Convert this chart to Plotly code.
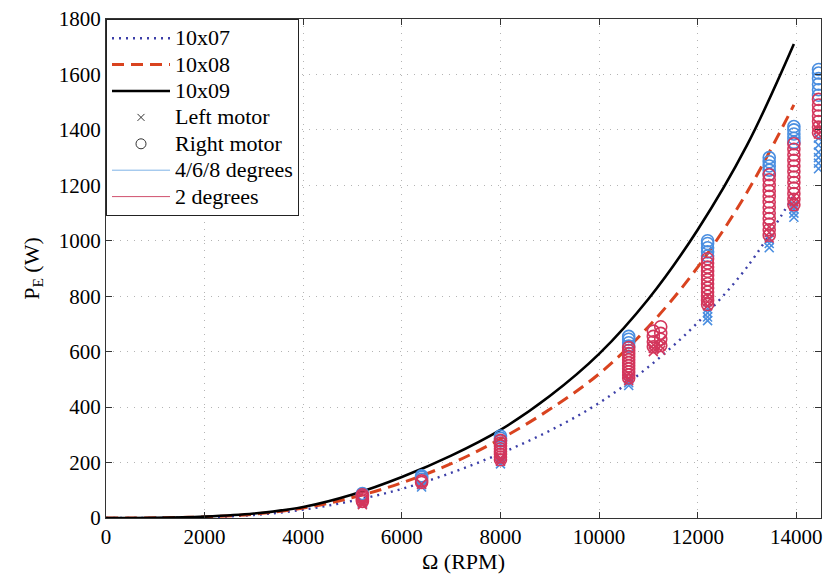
import plotly.graph_objects as go

# Model curves: electrical power vs rotor speed for three propellers
curve_rpm = [0, 1000, 2000, 3000, 4000, 5000, 6000, 7000, 8000, 9000, 10000, 11000, 12000, 13000, 13950]
p_10x07 = [0, 0.5, 3, 11, 30, 62, 105, 163, 233, 315, 415, 545, 705, 905, 1165]
p_10x08 = [0, 0.5, 4, 14, 36, 74, 127, 196, 285, 392, 520, 690, 905, 1175, 1490]
p_10x09 = [0, 0.5, 5, 16, 40, 85, 148, 225, 318, 440, 592, 790, 1040, 1345, 1710]

# Measured test points, grouped by commanded speed
rpm_levels = [5200, 6400, 8000, 10600, 11100, 11250, 12200, 13450, 13950, 14450]

# 4/6/8 degrees, left motor (x) and right motor (o)
left_wide = [[52, 60], [112, 120], [195, 205, 215], [478, 488, 500], [], [],
             [712, 725, 740, 755], [975, 990, 1005], [1085, 1100, 1115, 1130],
             [1260, 1280, 1300, 1320, 1345, 1370]]
right_wide = [[82, 88], [140, 147, 152], [278, 288, 296], [620, 632, 645, 655], [], [],
              [945, 960, 975, 990, 1000], [1240, 1255, 1270, 1285, 1300],
              [1355, 1370, 1385, 1400, 1412], [1525, 1545, 1565, 1585, 1605, 1618]]

# 2 degrees, left motor (x) and right motor (o)
left_two = [[48, 56], [122], [205, 215], [495, 505, 520], [600, 612, 625], [605, 620, 640],
            [765, 780, 800], [1010, 1030, 1050], [1125, 1140, 1160], [1385, 1400, 1420]]
right_two = [[60, 66, 72, 78, 84], [128, 134],
             [210, 220, 230, 240, 250, 260, 270, 280],
             [505, 516, 527, 538, 549, 560, 571, 582, 593, 604, 615],
             [618, 636, 655, 674], [622, 645, 666, 690],
             [770, 785, 800, 815, 830, 845, 860, 875, 890, 905, 920, 935],
             [1020, 1040, 1060, 1080, 1100, 1120, 1140, 1160, 1180, 1200, 1220, 1238],
             [1130, 1150, 1170, 1190, 1210, 1230, 1250, 1270, 1290, 1310, 1330, 1350],
             [1390, 1410, 1430, 1450, 1470, 1490, 1510]]

x_ticks = [0, 2000, 4000, 6000, 8000, 10000, 12000, 14000]
y_ticks = [0, 200, 400, 600, 800, 1000, 1200, 1400, 1600, 1800]

BLUE = "#4a8ee0"
RED = "#d3365c"
SERIF = "Liberation Serif"


def flatten(groups):
    xs, ys = [], []
    for rpm, vals in zip(rpm_levels, groups):
        for v in vals:
            xs.append(rpm)
            ys.append(v)
    return xs, ys


def label(text):
    return "<span style='font-size:22px'>" + text + "</span>"


fig = go.Figure()

fig.add_trace(go.Scatter(x=curve_rpm, y=p_10x07, mode="lines", name=label("10x07"),
                         line=dict(color="#3c3fa8", width=2.4, dash="2px,5px", shape="spline")))
fig.add_trace(go.Scatter(x=curve_rpm, y=p_10x08, mode="lines", name=label("10x08"),
                         line=dict(color="#d9431f", width=3, dash="12px,7px", shape="spline")))
fig.add_trace(go.Scatter(x=curve_rpm, y=p_10x09, mode="lines", name=label("10x09"),
                         line=dict(color="black", width=2.6, shape="spline")))

# Legend-only entries for marker meaning and colour meaning
fig.add_trace(go.Scatter(x=[None], y=[None], mode="markers", name=label("Left motor"),
                         marker=dict(symbol="x-thin-open", size=7, color="#333",
                                     line=dict(color="#333", width=1))))
fig.add_trace(go.Scatter(x=[None], y=[None], mode="markers", name=label("Right motor"),
                         marker=dict(symbol="circle-open", size=10, color="#333", line=dict(width=1))))
fig.add_trace(go.Scatter(x=[None], y=[None], mode="lines", name=label("4/6/8 degrees"),
                         line=dict(color="#7fb3e6", width=1)))
fig.add_trace(go.Scatter(x=[None], y=[None], mode="lines", name=label("2 degrees"),
                         line=dict(color="#d0506e", width=1)))

for groups, color, symbol, size in [
    (left_wide, BLUE, "x-thin-open", 9),
    (right_wide, BLUE, "circle-open", 12),
    (left_two, RED, "x-thin-open", 9),
    (right_two, RED, "circle-open", 12),
]:
    xs, ys = flatten(groups)
    fig.add_trace(go.Scatter(x=xs, y=ys, mode="markers", showlegend=False,
                             marker=dict(symbol=symbol, size=size, color=color,
                                         line=dict(color=color, width=1.6))))

axis_common = dict(
    showline=True, linecolor="#333", linewidth=1, mirror="allticks",
    ticks="inside", ticklen=6, tickcolor="#333",
    showgrid=True, gridcolor="#b4b4b4", griddash="1px,6px", gridwidth=1.3,
    zeroline=False, tickfont=dict(family=SERIF, size=21, color="black"),
)

fig.update_xaxes(range=[0, 14500], tickvals=x_ticks, ticktext=[str(v) for v in x_ticks],
                 title=dict(text="Ω (RPM)", font=dict(family=SERIF, size=22, color="black"), standoff=0),
                 **axis_common)
fig.update_yaxes(range=[0, 1800], tickvals=y_ticks, ticktext=[str(v) for v in y_ticks],
                 title=dict(text="P<sub>E</sub> (W)", font=dict(family=SERIF, size=22, color="black"), standoff=13),
                 **axis_common)

fig.update_layout(
    width=830, height=577,
    margin=dict(l=106, r=7, t=13, b=59),
    paper_bgcolor="white", plot_bgcolor="white",
    legend=dict(x=0, y=1, xanchor="left", yanchor="top", bgcolor="white",
                bordercolor="#222", borderwidth=1, itemwidth=58,
                font=dict(family=SERIF, size=18, color="black"),
                tracegroupgap=0),
)

fig.write_html("out.html")
